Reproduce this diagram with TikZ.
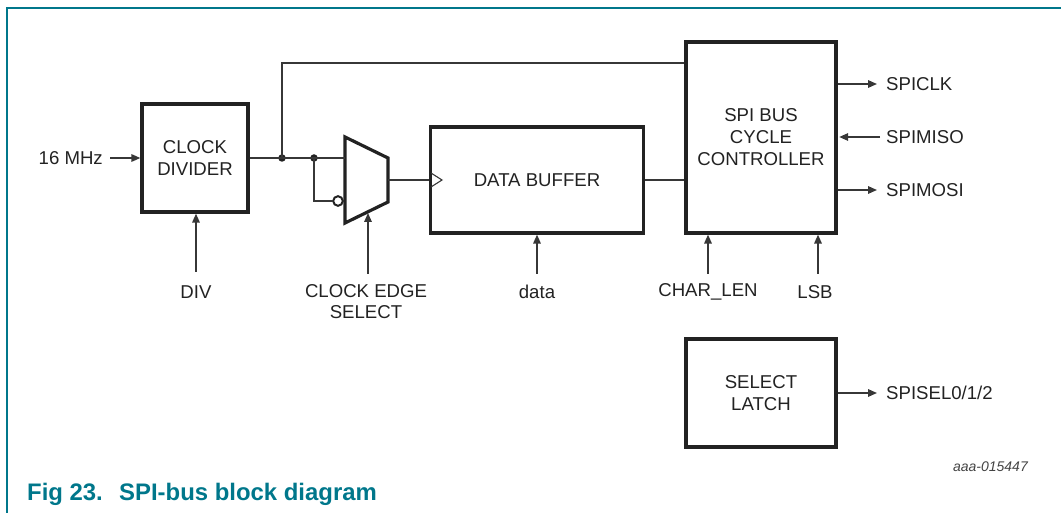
\documentclass[tikz,border=0pt]{standalone}
\usepackage{fontspec}
\setmainfont{Liberation Sans}
\usetikzlibrary{arrows.meta}
\definecolor{teal0}{RGB}{0,119,139}
\definecolor{boxc}{RGB}{34,34,34}
\definecolor{linec}{RGB}{55,55,55}
\begin{document}
\begin{tikzpicture}[x=1pt,y=-1pt,
  blk/.style={draw=boxc,line width=3.2pt,fill=white,inner sep=0pt,align=center,font=\fontsize{18.6}{22}\selectfont,text=boxc},
  wire/.style={draw=linec,line width=1.6pt},
  arr/.style={wire,-{Triangle[length=9pt,width=7.5pt]}},
  lbl/.style={inner sep=0pt,align=center,font=\fontsize{18.6}{21}\selectfont,text=boxc},
  dot/.style={circle,fill=boxc,inner sep=0pt,minimum size=7.5pt}]
\useasboundingbox (0,0) rectangle (1061,513);
% frame
\draw[teal0,line width=1.8pt] (7,513) -- (7,8) -- (1061,8);
% blocks
\node[blk,minimum width=106pt,minimum height=108pt] (div) at (195,158) {CLOCK\\DIVIDER};
\node[blk,minimum width=213pt,minimum height=106pt] (buf) at (537,180) {DATA BUFFER};
\node[blk,minimum width=150pt,minimum height=191pt] (spi) at (761,137.5) {SPI BUS\\CYCLE\\CONTROLLER};
\node[blk,minimum width=150pt,minimum height=108pt] (lat) at (761,393) {SELECT\\LATCH};
% mux
\draw[boxc,line width=3.2pt,line join=miter] (345,137) -- (388,158) -- (388,202) -- (345,223) -- cycle;
\coordinate (muxin) at (345,158);
\coordinate (muxinb) at (333,201);
\coordinate (muxout) at (388,180);
\coordinate (muxsel) at (368,213);
\draw[boxc,line width=2pt,fill=white] (338,201) circle (4.8pt);
% clock marker on data buffer
\draw[linec,line width=1.1pt] (431,173) -- (442,180) -- (431,187);
% dots
\node[dot] (d1) at (282,158) {};
\node[dot] (d2) at (314,158) {};
% labels
\node[lbl,anchor=east] (mhz) at (103,158) {16 MHz};
\node[lbl] (divl) at (196,292) {DIV};
\node[lbl] (ces) at (366,302) {CLOCK EDGE\\SELECT};
\node[lbl] (datal) at (537,292) {data};
\node[lbl] (charl) at (708,292) {CHAR\_LEN};
\node[lbl] (lsbl) at (815,292) {LSB};
\node[lbl,anchor=west] (sclk) at (886,84) {SPICLK};
\node[lbl,anchor=west] (smiso) at (886,137) {SPIMISO};
\node[lbl,anchor=west] (smosi) at (886,190) {SPIMOSI};
\node[lbl,anchor=west] (ssel) at (886,393) {SPISEL0/1/2};
\node[inner sep=0pt,anchor=east,font=\fontsize{14}{16}\selectfont\itshape,text=boxc!85] (ref) at (1028,467) {aaa-015447};
\node[inner sep=0pt,anchor=base west,font=\fontsize{23.9}{26}\selectfont\bfseries,text=teal0] (cap1) at (27,500) {Fig 23.};
\node[inner sep=0pt,anchor=base west,font=\fontsize{23.9}{26}\selectfont\bfseries,text=teal0] (cap2) at (119,500) {SPI-bus block diagram};
% coordinates for free ends
\coordinate (c16) at (110,158);
\coordinate (cdiv) at (196,272);
\coordinate (cces) at (368,274);
\coordinate (cdata) at (537,274);
\coordinate (cchar) at (708,274);
\coordinate (clsb) at (818,274);
\coordinate (o1) at (877,84);
\coordinate (o2) at (880,137);
\coordinate (o3) at (877,190);
\coordinate (o4) at (877,393);
% wires
\draw[arr] (c16) -- (div.west);
\draw[arr] (cdiv) -- (div.south -| cdiv);
\draw[wire] (div.east) -- (muxin);
\draw[wire] (d1.center) -- (282,63) -- (spi.west |- 0,63);
\draw[wire] (d2.center) -- (314,201) -- (muxinb);
\draw[wire] (muxout) -- (buf.west);
\draw[arr] (cces) -- (muxsel);
\draw[arr] (cdata) -- (buf.south -| cdata);
\draw[wire] (buf.east) -- (spi.west |- buf.east);
\draw[arr] (cchar) -- (spi.south -| cchar);
\draw[arr] (clsb) -- (spi.south -| clsb);
\draw[arr] (spi.east |- o1) -- (o1);
\draw[arr] (o2) -- ([xshift=1.6pt]spi.east |- o2);
\draw[arr] (spi.east |- o3) -- (o3);
\draw[arr] (lat.east |- o4) -- (o4);
\end{tikzpicture}
\end{document}
